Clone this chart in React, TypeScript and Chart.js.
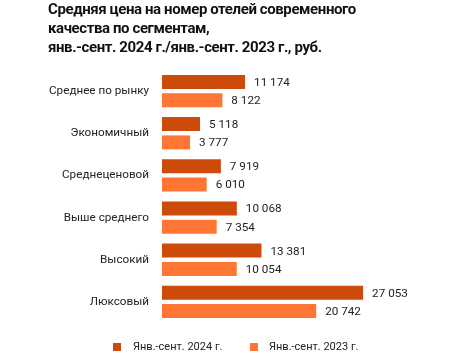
import React, { useEffect, useRef } from "react";
import { Chart, registerables } from "chart.js";

Chart.register(...registerables);

const categories = [
  "Среднее по рынку",
  "Экономичный",
  "Среднеценовой",
  "Выше среднего",
  "Высокий",
  "Люксовый",
];
const series2024 = [11174, 5118, 7919, 10068, 13381, 27053];
const series2023 = [8122, 3777, 6010, 7354, 10054, 20742];
const label2024 = "Янв.-сент. 2024 г.";
const label2023 = "Янв.-сент. 2023 г.";
const titleLines = [
  "Средняя цена на номер отелей современного",
  "качества по сегментам,",
  "янв.-сент. 2024 г./янв.-сент. 2023 г., руб.",
];
const color2024 = "#CC4A0A";
const color2023 = "#FF7533";

const fmt = (v: number) => String(v).replace(/\B(?=(\d{3})+(?!\d))/g, " ");

const valueLabels = {
  id: "valueLabels",
  afterDatasetsDraw(chart: any) {
    const ctx = chart.ctx;
    ctx.save();
    ctx.font = "11.7px Roboto";
    ctx.fillStyle = "#222";
    ctx.textBaseline = "middle";
    ctx.textAlign = "left";
    chart.data.datasets.forEach((ds: any, i: number) => {
      const meta = chart.getDatasetMeta(i);
      meta.data.forEach((bar: any, j: number) => {
        ctx.fillText(fmt(ds.data[j]), bar.x + 9, bar.y + 1);
      });
    });
    ctx.restore();
  },
};

const legendText: React.CSSProperties = {
  position: "absolute",
  top: 339,
  fontFamily: "Roboto",
  fontSize: 11,
  lineHeight: "16px",
  color: "#222",
  whiteSpace: "nowrap",
};

export default function App() {
  const ref = useRef<HTMLCanvasElement>(null);
  useEffect(() => {
    if (!ref.current) return;
    const chart = new Chart(ref.current, {
      type: "bar",
      data: {
        labels: categories,
        datasets: [
          { label: label2024, data: series2024, backgroundColor: color2024 },
          { label: label2023, data: series2023, backgroundColor: color2023 },
        ],
      },
      options: {
        indexAxis: "y",
        responsive: false,
        animation: false,
        layout: { padding: { top: 70, bottom: 33, left: 0, right: 64 } },
        datasets: { bar: { categoryPercentage: 0.867, barPercentage: 0.765 } },
        scales: {
          x: { display: false, min: 0, max: 30000 },
          y: {
            grid: { display: false, drawTicks: false },
            border: { display: false },
            ticks: { padding: 13, color: "#222", font: { family: "Roboto", size: 11.7 } },
            afterFit: (s: any) => {
              s.width = 162;
            },
          },
        },
        plugins: {
          legend: { display: false },
          tooltip: { enabled: false },
        },
      },
      plugins: [valueLabels],
    });
    return () => chart.destroy();
  }, []);
  return (
    <div style={{ position: "fixed", left: 0, top: 0, width: 449, height: 356, overflow: "hidden", background: "#fff" }}>
      <canvas ref={ref} width={449} height={356} style={{ position: "absolute", left: 0, top: 0 }} />
      <div
        style={{
          position: "absolute",
          left: 48,
          top: 0,
          fontFamily: "Roboto",
          fontWeight: 700,
          fontSize: 15,
          letterSpacing: "-0.4px",
          lineHeight: "19px",
          color: "#111",
          whiteSpace: "nowrap",
        }}
      >
        {titleLines.map((t, i) => (
          <div key={i}>{t}</div>
        ))}
      </div>
      <div style={{ position: "absolute", left: 113, top: 343, width: 8, height: 8, background: color2024 }} />
      <div style={{ ...legendText, left: 133 }}>{label2024}</div>
      <div style={{ position: "absolute", left: 250, top: 343, width: 8, height: 8, background: color2023 }} />
      <div style={{ ...legendText, left: 269 }}>{label2023}</div>
    </div>
  );
}
